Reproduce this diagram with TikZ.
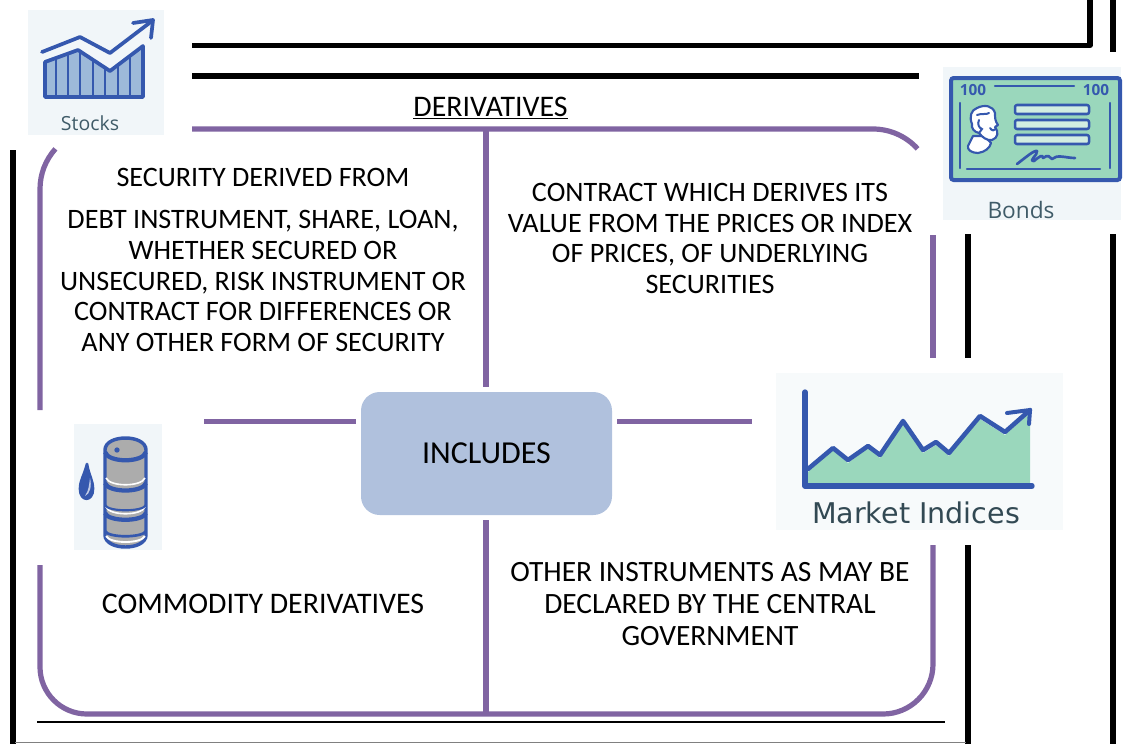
\documentclass[tikz,border=0pt]{standalone}
\usepackage{fontspec}
\setmainfont{Carlito}
\newfontfamily\iconfont{Open Sans}
\newfontfamily\widefont{DejaVu Sans}
\usetikzlibrary{arrows.meta}
\definecolor{purp}{HTML}{8064A2}
\definecolor{boxblue}{HTML}{B0C1DD}
\definecolor{iconblue}{HTML}{3558AE}
\definecolor{iconbg}{HTML}{F1F6F9}
\definecolor{icongreen}{HTML}{9AD7BC}
\definecolor{barblue}{HTML}{9DB9D9}
\definecolor{icontext}{HTML}{3F5B68}
\tikzset{
  blk/.style={draw=black,line width=3.9pt},
  pur/.style={draw=purp,line width=3.9pt},
  body/.style={font=\fontsize{21.1}{23.05}\selectfont,align=center,text=black,inner sep=0pt},
  ico/.style={draw=iconblue,line width=2.8pt,line join=round,line cap=round},
  icolabel/.style={text=icontext,inner sep=0pt},
}
\begin{document}
\begin{tikzpicture}[x=0.75pt,y=-0.75pt]
\useasboundingbox (0,0) rectangle (1123,743);
% black frame lines
\draw[blk,line join=round] (192,45.5) -- (1090,45.5) -- (1090,-5);
\draw[blk] (1113,-5) -- (1113,52);
\draw[blk] (192,76) -- (919,76);
\draw[blk] (13,150) -- (13,748);
\draw[blk] (968,234) -- (968,358);
\draw[blk] (968,545) -- (968,748);
\draw[blk] (1113,234) -- (1113,748);
\draw[draw=black,line width=2.2pt] (37,722) -- (945,722);
\draw[draw=gray,line width=0.7pt] (15,742) -- (966,742);
% purple frame
\draw[pur] (192,129) -- (873,129) arc[start angle=90,end angle=42,radius=45pt];
\draw[pur] (40,410) -- (40,189) arc[start angle=180,end angle=138,radius=45pt];
\draw[pur] (933,235) -- (933,358);
\draw[pur] (933,545) -- (933,664) arc[start angle=0,end angle=-90,radius=37.5pt] -- (87,714) arc[start angle=270,end angle=180,radius=35.25pt] -- (40,565);
% centre node and connectors
\node[draw=none,fill=boxblue,rounded corners=14pt,minimum width=188.25pt,minimum height=92.25pt,inner sep=0pt,font=\fontsize{24}{28}\selectfont] (inc) at (486.5,453.5) {INCLUDES};
\coordinate (topc) at (486,129);
\coordinate (botc) at (486,714);
\coordinate (leftc) at (204,421.5);
\coordinate (rightc) at (752,421.5);
\coordinate (il) at (356,421.5);
\coordinate (ir) at (617,421.5);
\coordinate (it) at (486,387);
\coordinate (ib) at (486,520);
\draw[pur] (topc) -- (it);
\draw[pur] (ib) -- (botc);
\draw[pur] (leftc) -- (il);
\draw[pur] (ir) -- (rightc);
% texts
\node[body,font=\fontsize{22.4}{26}\selectfont] (title) at (490.5,108) {\underline{DERIVATIVES}};
\node[body] (sec) at (263,177) {SECURITY DERIVED FROM};
\node[body] (debt) at (263,281) {DEBT INSTRUMENT, SHARE, LOAN,\\WHETHER SECURED OR\\UNSECURED, RISK INSTRUMENT OR\\CONTRACT FOR DIFFERENCES OR\\ANY OTHER FORM OF SECURITY};
\node[body] (contract) at (710,238.5) {CONTRACT WHICH DERIVES ITS\\VALUE FROM THE PRICES OR INDEX\\OF PRICES, OF UNDERLYING\\SECURITIES};
\node[body,font=\fontsize{22.4}{26}\selectfont] (comm) at (263,604) {COMMODITY DERIVATIVES};
\node[body,font=\fontsize{22.1}{24}\selectfont] (other) at (710,604) {OTHER INSTRUMENTS AS MAY BE\\DECLARED BY THE CENTRAL\\GOVERNMENT};
% stocks icon
\fill[iconbg] (28,10) rectangle (164,135);
\fill[barblue] (45,60) -- (78,49) -- (110,69) -- (143,46) -- (143,97) -- (45,97) -- cycle;
\draw[ico] (45,97) -- (45,62) -- (78,50) -- (110,71) -- (143,46) -- (143,97) -- cycle;
\foreach \bx/\by in {56/58,68/54,80/50,93/58,105/66,118/64,130/55}{\draw[draw=iconblue,line width=2.2pt] (\bx,\by) -- (\bx,97);}
\draw[ico] (42,52) -- (80,37) -- (110,53) -- (152,21);
\draw[ico] (133,23) -- (153,20) -- (151,38);
\node[icolabel,font=\iconfont\fontsize{14.6}{17}\selectfont] (stl) at (90,123) {Stocks};
% bonds icon
\fill[iconbg] (943,67) rectangle (1121,220);
\draw[draw=iconblue,fill=icongreen,line width=3pt,rounded corners=2pt] (951,78) rectangle (1120,180);
\node[inner sep=0pt,text=iconblue,font=\iconfont\bfseries\fontsize{11.5}{12}\selectfont] (b1) at (973,90) {100};
\node[inner sep=0pt,text=iconblue,font=\iconfont\bfseries\fontsize{11.5}{12}\selectfont] (b2) at (1096,90) {100};
\draw[ico,line width=1.8pt] (995,86) -- (1074,86);
\draw[ico,line width=1.8pt] (960,103) -- (960,168);
\draw[ico,line width=1.8pt] (1110,103) -- (1110,168);
\draw[ico,line width=1.8pt] (967,169) -- (1100,169);
\foreach \ry in {105,120,135}{\draw[ico,fill=icongreen!45!white,line width=1.9pt,rounded corners=1.5pt] (1015,\ry) rectangle (1089,\ry+9);}
% portrait: hair, face, beard, shoulders
\draw[ico,fill=white,line width=1.6pt] (973,136) -- (968,146) .. controls (967,150) and (972,153) .. (978,153) .. controls (985,152) and (990,148) .. (991,143) -- (984,136) -- cycle;
\draw[ico,fill=white,line width=1.6pt] (977,108) .. controls (985,104) and (993,106) .. (995,113) .. controls (995,118) and (995,121) .. (998,125) -- (995,127) .. controls (999,132) and (998,138) .. (992,140) .. controls (987,141) and (982,137) .. (979,133) .. controls (974,132) and (971,128) .. (972,124) .. controls (969,117) and (971,110) .. (977,108) -- cycle;
\draw[draw=iconblue,line width=1.5pt,line cap=round] (977,115) .. controls (982,113) and (986,115) .. (989,113);
\draw[draw=iconblue,line width=1.5pt,line cap=round] (979,120) .. controls (977,124) and (979,128) .. (982,129) -- (979,133);
\draw[draw=iconblue,line width=1.5pt,line cap=round] (990,128) .. controls (992,131) and (994,131) .. (996,129);
% signature
\draw[draw=iconblue,line width=2pt,line cap=round,line join=round] (1017,164) .. controls (1025,158) and (1034,150) .. (1037,151) .. controls (1038,155) and (1028,161) .. (1034,161) .. controls (1040,156) and (1043,154) .. (1043,158) .. controls (1048,154) and (1050,157) .. (1052,159) .. controls (1057,154) and (1066,158) .. (1075,158);
\node[icolabel,font=\iconfont\fontsize{17}{20}\selectfont] (bdl) at (1021,210) {Bonds};
% market icon
\fill[iconbg!60!white] (776,373) rectangle (1063,530);
\fill[icongreen] (808,472) -- (833,450) -- (848,463) -- (868,448) -- (880,458) -- (903,424) -- (923,453) -- (936,445) -- (949,456) -- (980,419) -- (1005,435) -- (1030,413) -- (1030,486) -- (808,486) -- cycle;
\draw[draw=iconblue,line width=4pt,line cap=round,line join=round] (805,392) -- (805,486) -- (1032,486);
\draw[draw=iconblue,line width=3.4pt,line cap=round,line join=round] (808,469) -- (833,448) -- (848,460) -- (868,446) -- (880,455) -- (903,421) -- (923,450) -- (936,442) -- (949,453) -- (980,416) -- (1005,432) -- (1030,410);
\draw[draw=iconblue,line width=3pt,line cap=round,line join=round] (1007,413) -- (1030,410) -- (1029,424);
\node[text=icontext!80!black,inner sep=0pt,font=\widefont\fontsize{21.4}{24}\selectfont] (mkl) at (916,513) {Market Indices};
% barrel icon
\fill[iconbg] (74,424) rectangle (162,550);
\draw[draw=iconblue,fill=gray!65,line width=2.6pt] (105,450) -- (105,535) .. controls (105,551) and (146,551) .. (146,535) -- (146,450) .. controls (146,434) and (105,434) .. (105,450) -- cycle;
\draw[draw=iconblue,line width=3.2pt] (105,452) .. controls (108,463) and (143,463) .. (146,452);
\draw[draw=white,line width=1.2pt] (106,478) .. controls (110,487) and (141,487) .. (145,478);
\draw[draw=iconblue,line width=3.2pt] (105,483) .. controls (108,493) and (143,493) .. (146,483);
\draw[draw=white,line width=1.2pt] (106,507) .. controls (110,516) and (141,516) .. (145,507);
\draw[draw=iconblue,line width=1.6pt] (105,505) .. controls (108,512) and (143,512) .. (146,505);
\draw[draw=iconblue,line width=3.2pt] (105,513) .. controls (108,522) and (143,522) .. (146,513);
\draw[draw=white,line width=1.4pt] (106,536) .. controls (110,544) and (141,544) .. (145,536);
\draw[draw=iconblue,line width=2pt] (105,531) .. controls (108,538) and (143,538) .. (146,531);
\fill[iconblue] (117,450) circle[radius=2pt];
\draw[draw=iconblue,fill=iconblue,line width=2pt,line join=round] (87,464) .. controls (84,476) and (80,480) .. (80,489) .. controls (80,502) and (93,502) .. (93,489) .. controls (93,480) and (89,476) .. (87,464) -- cycle;
\fill[white!70!iconblue] (90,478) .. controls (92,486) and (90,494) .. (85,496) .. controls (89,490) and (89,485) .. (90,478) -- cycle;
\end{tikzpicture}
\end{document}
